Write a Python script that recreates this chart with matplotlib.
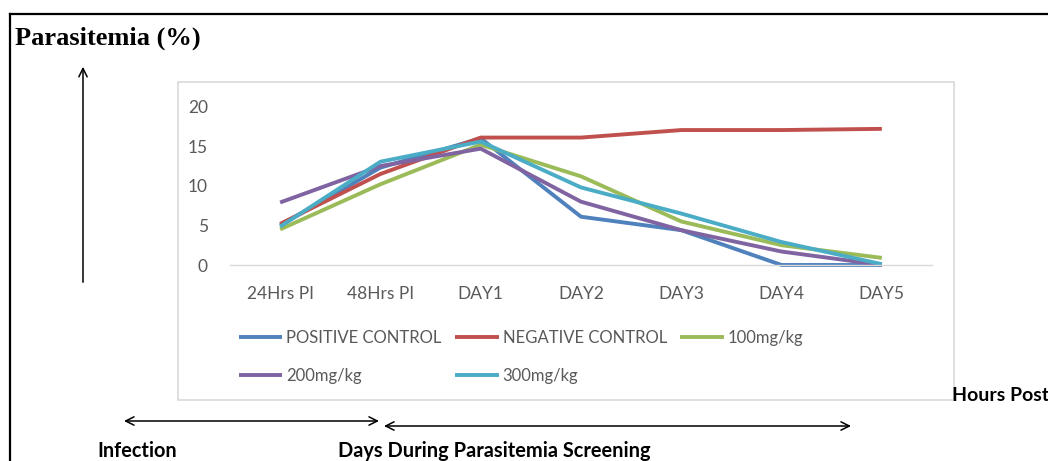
import matplotlib
matplotlib.use("Agg")
import matplotlib.pyplot as plt
from matplotlib.lines import Line2D
from matplotlib.patches import FancyArrowPatch, Rectangle

categories = ["24Hrs PI", "48Hrs PI", "DAY1", "DAY2", "DAY3", "DAY4", "DAY5"]
positive_control = [5.0, 12.3, 16.0, 6.1, 4.4, 0.0, 0.0]
negative_control = [5.2, 11.5, 16.1, 16.1, 17.05, 17.05, 17.2]
dose_100 = [4.5, 10.2, 15.2, 11.2, 5.5, 2.5, 0.9]
dose_200 = [7.9, 12.5, 14.7, 8.0, 4.4, 1.7, 0.0]
dose_300 = [4.85, 13.05, 15.6, 9.8, 6.5, 2.9, 0.1]
series_names = ["POSITIVE CONTROL", "NEGATIVE CONTROL", "100mg/kg", "200mg/kg", "300mg/kg"]
y_ticks = [0, 5, 10, 15, 20]

colors = ["#4F81BD", "#C0504D", "#9BBB59", "#8064A2", "#4BACC6"]
FONT = ["Lato", "DejaVu Sans"]

W, H = 1048, 461
fig = plt.figure(figsize=(W / 100, H / 100), dpi=100)

def fx(px):
    return px / W

def fy(py):
    return 1 - py / H

# outer frame lines
fig.add_artist(Line2D([fx(10), 1.0], [fy(14), fy(14)], color="black", lw=1.6, transform=fig.transFigure))
fig.add_artist(Line2D([fx(10), fx(10)], [fy(14), 0.0], color="black", lw=1.6, transform=fig.transFigure))

# chart area box
fig.add_artist(Rectangle((fx(178), fy(400)), fx(954) - fx(178), fy(82) - fy(400),
                         transform=fig.transFigure, fill=False, edgecolor="#D9D9D9", lw=1.2))

ax = fig.add_axes([fx(230), fy(265), fx(932) - fx(230), fy(106.7) - fy(265)])
x = list(range(len(categories)))
all_series = [positive_control, negative_control, dose_100, dose_200, dose_300]
handles = []
for vals, c, n in zip(all_series, colors, series_names):
    h, = ax.plot(x, vals, color=c, lw=2.8, label=n, clip_on=False, solid_capstyle="butt")
    handles.append(h)

ax.set_xlim(-0.5, len(categories) - 0.5)
ax.set_ylim(0, 20)
ax.set_yticks(y_ticks)
ax.set_xticks(x)
ax.set_xticklabels(categories)
for s in ["top", "right", "left"]:
    ax.spines[s].set_visible(False)
ax.spines["bottom"].set_color("#D9D9D9")
ax.spines["bottom"].set_linewidth(1.0)
ax.tick_params(axis="both", length=0, colors="#595959", labelsize=12.5)
ax.tick_params(axis="x", pad=15)
ax.tick_params(axis="y", pad=16)
for lab in ax.get_xticklabels() + ax.get_yticklabels():
    lab.set_fontfamily(FONT)
ax.patch.set_alpha(0)

order = [0, 3, 1, 4, 2]
leg = ax.legend([handles[i] for i in order], [series_names[i] for i in order],
                ncol=3, loc="upper left", bbox_to_anchor=(fx(239), fy(330)),
                bbox_transform=fig.transFigure, frameon=False,
                prop={"family": FONT, "size": 12}, handlelength=2.6,
                handletextpad=0.25, columnspacing=0.8, labelspacing=1.3,
                borderaxespad=0, borderpad=0)
for t in leg.get_texts():
    t.set_color("#595959")

# title
fig.text(fx(15), fy(38), "Parasitemia (%)", fontfamily="Liberation Serif", fontweight="bold",
         fontsize=19, va="center", ha="left")

# arrows
fig.add_artist(FancyArrowPatch((fx(83), fy(285)), (fx(83), fy(64)), transform=fig.transFigure,
                               arrowstyle="->,head_length=6,head_width=3", color="black", lw=1.1))
fig.add_artist(FancyArrowPatch((fx(124), fy(421)), (fx(379), fy(421)), transform=fig.transFigure,
                               arrowstyle="<->,head_length=6,head_width=3", color="black", lw=1.1,
                               shrinkA=0, shrinkB=0))
fig.add_artist(FancyArrowPatch((fx(384), fy(426)), (fx(851), fy(426)), transform=fig.transFigure,
                               arrowstyle="<->,head_length=6,head_width=3", color="black", lw=1.1,
                               shrinkA=0, shrinkB=0))

fig.text(fx(952), fy(395), "Hours Post", fontfamily=FONT, fontweight="bold", fontsize=14,
         va="center", ha="left")
fig.text(fx(97), fy(451), "Infection", fontfamily=FONT, fontweight="bold", fontsize=14.3,
         va="center", ha="left")
fig.text(fx(338), fy(451), "Days During Parasitemia Screening", fontfamily=FONT, fontweight="bold",
         fontsize=14.4, va="center", ha="left")

fig.savefig("out.png", dpi=100)
